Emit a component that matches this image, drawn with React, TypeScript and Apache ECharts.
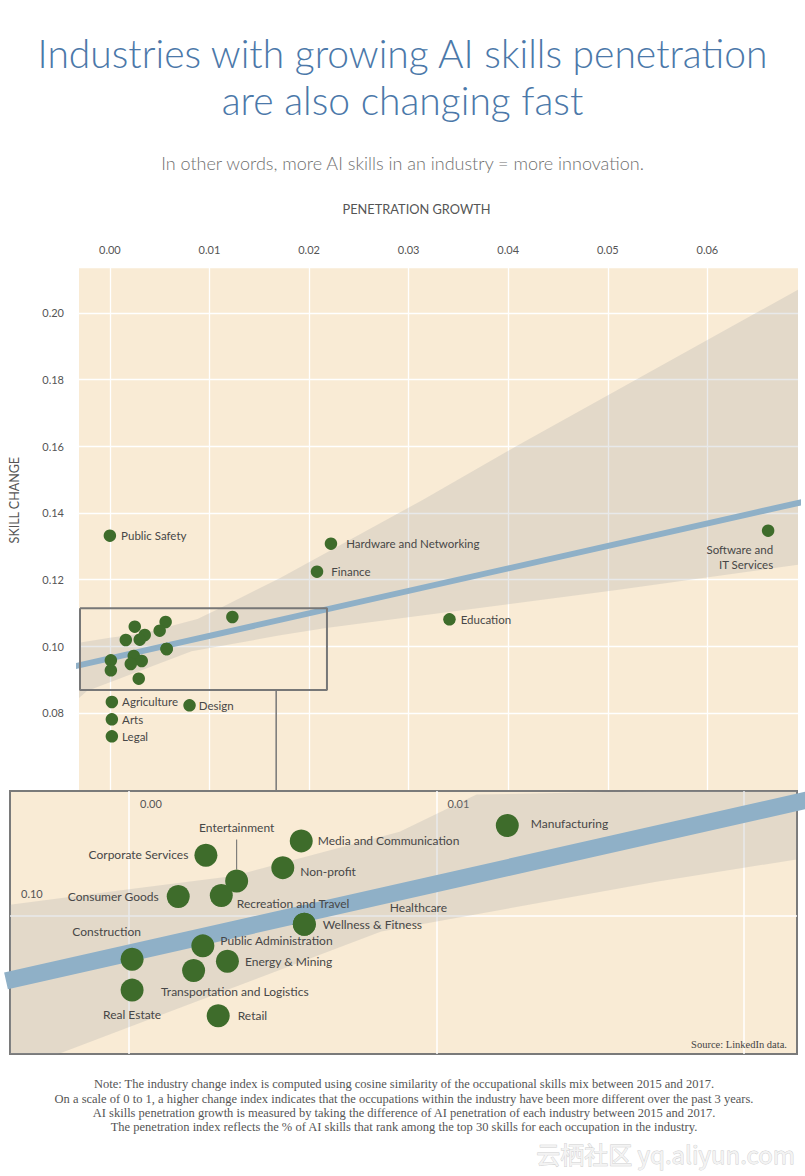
import React, { useEffect, useRef } from 'react';
import * as echarts from 'echarts';

// ---------------- data ----------------
// Industries shown with a label only in the overview chart
const overviewIndustries = ['Public Safety', 'Hardware and Networking', 'Finance', 'Education', 'Software and IT Services', 'Agriculture', 'Arts', 'Legal', 'Design'];
const overviewGrowth = [0.0000, 0.0222, 0.0208, 0.0341, 0.0661, 0.0002, 0.0002, 0.0002, 0.0080];
const overviewChange = [0.1332, 0.1308, 0.1224, 0.1081, 0.1347, 0.0833, 0.0781, 0.0730, 0.0823];

// Industries of the zoomed-in cluster (shown in the overview without labels and in the detail panel)
const detailIndustries = ['Healthcare', 'Media and Communication', 'Manufacturing', 'Corporate Services', 'Non-profit', 'Entertainment', 'Consumer Goods', 'Recreation and Travel', 'Wellness & Fitness', 'Public Administration', 'Energy & Mining', 'Construction', 'Transportation and Logistics', 'Real Estate', 'Retail'];
const detailGrowth = [0.0057, 0.0056, 0.0123, 0.0025, 0.0050, 0.0035, 0.0016, 0.0030, 0.0057, 0.0024, 0.0032, 0.0001, 0.0021, 0.0001, 0.0029];
const detailChange = [0.0992, 0.1073, 0.1088, 0.1059, 0.1047, 0.1034, 0.1019, 0.1020, 0.0992, 0.0971, 0.0956, 0.0958, 0.0947, 0.0928, 0.0903];

// Fitted trend line (end points) and its confidence band edges
const fitGrowth = [-0.004, 0.070];
const fitChange = [0.0937, 0.1436];
const bandUpperGrowth = [-0.004, 0.0, 0.0034, 0.0088, 0.0113, 0.0171, 0.0314, 0.0408, 0.070];
const bandUpperChange = [0.1011, 0.1026, 0.1039, 0.1082, 0.1118, 0.1205, 0.1439, 0.1600, 0.2070];
const bandLowerGrowth = [-0.004, -0.0023, 0.0082, 0.0171, 0.0217, 0.0509, 0.070];
const bandLowerChange = [0.0845, 0.0866, 0.0985, 0.1033, 0.1055, 0.1169, 0.1245];

// Axis extents and tick labels
const overviewGrowthRange = [-0.0031, 0.0691];
const overviewChangeRange = [0.04, 0.2138];
const detailGrowthRange = [-0.00387, 0.02172];
const detailChangeRange = [0.08659, 0.11215];
const overviewGrowthTicks = ['0.00', '0.01', '0.02', '0.03', '0.04', '0.05', '0.06'];
const overviewChangeTicks = ['0.08', '0.10', '0.12', '0.14', '0.16', '0.18', '0.20'];
const detailGrowthTicks = ['0.00', '0.01'];
const detailChangeTicks = ['0.10'];

// Zoom box drawn on the overview, and its connector to the detail panel
const boxGrowth = [-0.0030, 0.0218];
const boxChange = [0.0869, 0.1114];
const connectorGrowth = [0.0167, 0.0167];
const connectorChange = [0.0869, 0.0562];

const noteLines = [
  'Note: The industry change index is computed using cosine similarity of the occupational skills mix between 2015 and 2017.',
  'On a scale of 0 to 1, a higher change index indicates that the occupations within the industry have been more different over the past 3 years.',
  'AI skills penetration growth is measured by taking the difference of AI penetration of each industry between 2015 and 2017.',
  'The penetration index reflects the % of AI skills that rank among the top 30 skills for each occupation in the industry.',
];

// ---------------- styles ----------------
const FONT = 'Lato, "Open Sans", sans-serif';
const SERIF = '"Liberation Serif", "DejaVu Serif", serif';
const CREAM = '#f9ebd5';
const GREEN = '#3e6c2b';
const FIT = '#8fb0c7';
const BAND = 'rgba(150,156,160,0.22)';
const TICK = '#555555';
const LABEL = '#474747';

const overviewLabelStyle: Record<string, any> = {
  'Public Safety': { position: 'right', distance: 5 },
  'Hardware and Networking': { position: 'right', distance: 9 },
  'Finance': { position: 'right', distance: 8 },
  'Education': { position: 'right', distance: 5 },
  'Software and IT Services': { position: 'bottom', distance: 5, align: 'right', offset: [5, 0], formatter: 'Software and\nIT Services', lineHeight: 15 },
  'Agriculture': { position: 'right', distance: 4 },
  'Arts': { position: 'right', distance: 4 },
  'Legal': { position: 'right', distance: 4 },
  'Design': { position: 'right', distance: 3 },
};

const detailLabelStyle: Record<string, any> = {
  'Healthcare': { position: [97, -5], align: 'left', verticalAlign: 'middle' },
  'Media and Communication': { position: 'right', distance: 5 },
  'Manufacturing': { position: 'right', distance: 12, offset: [0, -2] },
  'Corporate Services': { position: 'left', distance: 6, offset: [0, -1] },
  'Non-profit': { position: 'right', distance: 6, offset: [0, 4] },
  'Entertainment': { position: 'top', distance: 36 },
  'Consumer Goods': { position: 'left', distance: 8 },
  'Recreation and Travel': { position: [27, 19.5], align: 'left', verticalAlign: 'middle' },
  'Wellness & Fitness': { position: 'right', distance: 7 },
  'Public Administration': { position: [29, 6.5], align: 'left', verticalAlign: 'middle' },
  'Energy & Mining': { position: 'right', distance: 6 },
  'Construction': { position: [-14, -16], align: 'center', verticalAlign: 'middle' },
  'Transportation and Logistics': { position: [-21, 32], align: 'left', verticalAlign: 'middle' },
  'Real Estate': { position: 'bottom', distance: 7 },
  'Retail': { position: 'right', distance: 8 },
};

function tickFormatter(labels: string[]) {
  return (v: number) => {
    const s = v.toFixed(2);
    return Math.abs(v - Number(s)) < 1e-7 && labels.includes(s) ? s : '';
  };
}

function bandSeries(xAxisIndex: number, z: number) {
  return {
    type: 'custom',
    xAxisIndex,
    yAxisIndex: xAxisIndex,
    clip: true,
    silent: true,
    z,
    data: [[bandUpperGrowth[0], bandUpperChange[0]]],
    renderItem: (params: any, api: any) => {
      const pts: number[][] = [];
      bandUpperGrowth.forEach((g, i) => pts.push(api.coord([g, bandUpperChange[i]])));
      for (let i = bandLowerGrowth.length - 1; i >= 0; i--) pts.push(api.coord([bandLowerGrowth[i], bandLowerChange[i]]));
      const cs = params.coordSys;
      const clipped = echarts.graphic.clipPointsByRect(pts, { x: cs.x, y: cs.y, width: cs.width, height: cs.height } as any);
      return { type: 'polygon', shape: { points: clipped }, style: { fill: BAND } };
    },
  };
}

function buildOption(): any {
  const fitData = fitGrowth.map((g, i) => [g, fitChange[i]]);
  const boxData = [
    [boxGrowth[0], boxChange[1]], [boxGrowth[1], boxChange[1]], [boxGrowth[1], boxChange[0]],
    [boxGrowth[0], boxChange[0]], [boxGrowth[0], boxChange[1]],
  ];
  const connectorData = connectorGrowth.map((g, i) => [g, connectorChange[i]]);

  const overviewData = overviewIndustries.map((name, i) => ({
    name,
    value: [overviewGrowth[i], overviewChange[i]],
    label: { show: true, ...overviewLabelStyle[name] },
  }));
  const detailOverviewData = detailIndustries.map((name, i) => ({ name, value: [detailGrowth[i], detailChange[i]] }));
  const detailData = detailIndustries.map((name, i) => {
    const item: any = {
      name,
      value: [detailGrowth[i], detailChange[i]],
      label: { show: true, ...detailLabelStyle[name] },
    };
    if (name === 'Entertainment') item.labelLine = { show: true, lineStyle: { color: '#6a6a6a', width: 1 } };
    return item;
  });

  return {
    animation: false,
    backgroundColor: '#ffffff',
    textStyle: { fontFamily: FONT },
    title: {
      text: 'Industries with growing AI skills penetration\nare also changing fast',
      subtext: 'In other words, more AI skills in an industry = more innovation.',
      left: 'center',
      top: 24,
      itemGap: 29,
      textStyle: { fontFamily: FONT, fontWeight: 300, fontSize: 39, lineHeight: 47, color: '#4b78a9' },
      subtextStyle: { fontFamily: FONT, fontWeight: 300, fontSize: 18, lineHeight: 22, color: '#707070' },
    },
    grid: [
      { left: 79, top: 267, width: 719, height: 579.3, show: true, backgroundColor: CREAM, borderWidth: 0, containLabel: false, outerBoundsMode: 'none', z: 0 },
      { left: 10, top: 791, width: 787, height: 263, show: true, backgroundColor: CREAM, borderColor: '#7a7a7a', borderWidth: 2, containLabel: false, outerBoundsMode: 'none', z: 10 },
    ],
    xAxis: [
      {
        type: 'value', gridIndex: 0, position: 'top',
        min: overviewGrowthRange[0], max: overviewGrowthRange[1], minInterval: 0.01, maxInterval: 0.01,
        name: 'PENETRATION GROWTH', nameLocation: 'middle', nameGap: 52,
        nameTextStyle: { color: TICK, fontSize: 12.8, fontFamily: FONT, padding: [0, 44, 0, 0] },
        axisLine: { show: false }, axisTick: { show: false },
        axisLabel: { margin: 12, color: TICK, fontSize: 11, fontFamily: FONT, formatter: tickFormatter(overviewGrowthTicks) },
        splitLine: { show: true, showMinLine: false, showMaxLine: false, lineStyle: { color: '#ffffff', width: 1.3 } },
      },
      {
        type: 'value', gridIndex: 1, position: 'top', z: 11,
        min: detailGrowthRange[0], max: detailGrowthRange[1], minInterval: 0.01, maxInterval: 0.01,
        axisLine: { show: false }, axisTick: { show: false },
        axisLabel: { inside: true, margin: 7, align: 'left', padding: [0, 0, 0, 11], color: TICK, fontSize: 11, fontFamily: FONT, formatter: tickFormatter(detailGrowthTicks) },
        splitLine: { show: true, showMinLine: false, showMaxLine: false, lineStyle: { color: '#ffffff', width: 1.5 } },
      },
    ],
    yAxis: [
      {
        type: 'value', gridIndex: 0,
        min: overviewChangeRange[0], max: overviewChangeRange[1], interval: 0.02,
        name: 'SKILL CHANGE', nameLocation: 'middle', nameGap: 58,
        nameTextStyle: { color: TICK, fontSize: 12.5, fontFamily: FONT, padding: [0, 0, 0, 113] },
        axisLine: { show: false }, axisTick: { show: false },
        axisLabel: { margin: 15, color: TICK, fontSize: 11, fontFamily: FONT, formatter: tickFormatter(overviewChangeTicks) },
        splitLine: { show: true, lineStyle: { color: ['#ffffff', 'rgba(255,255,255,0)', '#ffffff', '#ffffff', '#ffffff', '#ffffff', '#ffffff', '#ffffff', '#ffffff', '#ffffff'], width: 1.3 } },
      },
      {
        type: 'value', gridIndex: 1, z: 11,
        min: detailChangeRange[0], max: detailChangeRange[1], minInterval: 0.02, maxInterval: 0.02,
        axisLine: { show: false }, axisTick: { show: false },
        axisLabel: { inside: true, margin: 11, align: 'left', verticalAlign: 'bottom', padding: [0, 0, 17, 0], color: TICK, fontSize: 11, fontFamily: FONT, formatter: tickFormatter(detailChangeTicks) },
        splitLine: { show: true, showMinLine: false, showMaxLine: false, lineStyle: { color: '#ffffff', width: 1.5 } },
      },
    ],
    series: [
      // ---- overview ----
      bandSeries(0, 1),
      { type: 'line', xAxisIndex: 0, yAxisIndex: 0, data: fitData, symbol: 'none', silent: true, z: 2, lineStyle: { color: FIT, width: 6 } },
      { type: 'line', xAxisIndex: 0, yAxisIndex: 0, data: boxData, symbol: 'none', silent: true, z: 3, lineStyle: { color: '#777777', width: 2 } },
      { type: 'line', xAxisIndex: 0, yAxisIndex: 0, data: connectorData, symbol: 'none', silent: true, z: 3, clip: false, lineStyle: { color: '#777777', width: 1.5 } },
      { type: 'scatter', xAxisIndex: 0, yAxisIndex: 0, data: detailOverviewData, symbolSize: 12.5, z: 4, itemStyle: { color: GREEN, opacity: 1 } },
      {
        type: 'scatter', xAxisIndex: 0, yAxisIndex: 0, data: overviewData, symbolSize: 12.5, z: 5,
        itemStyle: { color: GREEN, opacity: 1 },
        label: { show: true, formatter: '{b}', color: LABEL, fontSize: 11.5, fontFamily: FONT },
      },
      // ---- detail panel ----
      bandSeries(1, 12),
      { type: 'line', xAxisIndex: 1, yAxisIndex: 1, data: fitData, symbol: 'none', silent: true, z: 13, lineStyle: { color: FIT, width: 17 } },
      {
        type: 'scatter', xAxisIndex: 1, yAxisIndex: 1, data: detailData, symbolSize: 23, z: 14,
        itemStyle: { color: GREEN, opacity: 1 },
        label: { show: true, formatter: '{b}', color: LABEL, fontSize: 12, fontFamily: FONT },
      },
    ],
    graphic: [
      {
        type: 'text', x: 787, y: 1044, z: 50,
        style: { text: 'Source: LinkedIn data.', fill: '#444444', font: '10.5px ' + SERIF, align: 'right', textAlign: 'right', verticalAlign: 'middle', textVerticalAlign: 'middle' },
      },
      {
        type: 'text', x: 404, y: 1077, z: 50,
        style: { text: noteLines.join('\n'), fill: '#555555', font: '12.5px ' + SERIF, lineHeight: 14.4, align: 'center', textAlign: 'center', verticalAlign: 'top', textVerticalAlign: 'top' },
      },
      {
        type: 'text', x: 795, y: 1153, z: 50,
        style: { text: '云栖社区 yq.aliyun.com', fill: '#f3f3f3', stroke: '#cdcdcd', lineWidth: 0.8, font: '24px "Noto Sans CJK SC", sans-serif', align: 'right', textAlign: 'right', verticalAlign: 'middle', textVerticalAlign: 'middle' },
      },
    ],
  };
}

export default function App() {
  const ref = useRef<HTMLDivElement>(null);
  useEffect(() => {
    document.body.style.margin = '0';
    const chart = echarts.init(ref.current as HTMLDivElement, null, { renderer: 'svg' });
    chart.setOption(buildOption());
    return () => chart.dispose();
  }, []);
  return <div ref={ref} style={{ position: 'absolute', left: 0, top: 0, width: 805, height: 1176, background: '#ffffff' }} />;
}
